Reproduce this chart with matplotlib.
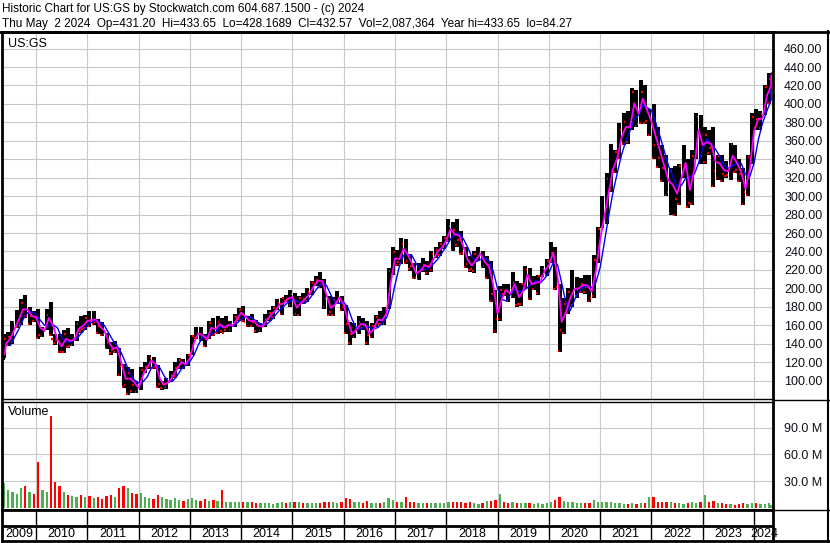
import numpy as np
import pandas as pd
import matplotlib
matplotlib.use("Agg")
import matplotlib.pyplot as plt

plt.rcParams['font.family'] = ['Liberation Sans', 'DejaVu Sans']

# monthly bars for US:GS, Apr 2009 .. May 2024
first_year, first_month = 2009, 4

highs = [136, 150, 153, 165, 177, 188, 193, 180, 175,
         178, 158, 178, 185, 150, 150, 155, 157, 151, 165, 170, 171,
         175, 175, 167, 163, 152, 142, 143, 135, 118, 115, 112, 100,
         115, 120, 128, 126, 117, 100, 103, 110, 120, 125, 123, 129,
         149, 158, 158, 150, 165, 168, 170, 168, 170, 165, 172, 179,
         181, 170, 172, 166, 162, 172, 176, 181, 188, 190, 193, 198,
         195, 192, 195, 200, 208, 213, 218, 210, 192, 191, 197, 192,
         182, 163, 162, 170, 168, 165, 162, 171, 175, 180, 222, 245,
         242, 255, 253, 237, 227, 227, 233, 230, 240, 245, 250, 257,
         275, 272, 275, 262, 245, 235, 240, 245, 240, 235, 230, 198,
         203, 205, 205, 218, 208, 206, 224, 222, 213, 215, 224, 232,
         250, 245, 205, 190, 200, 220, 212, 211, 215, 215, 236, 267,
         300, 325, 356, 350, 379, 390, 392, 417, 415, 426, 420, 395,
         400, 375, 355, 345, 330, 333, 335, 355, 340, 350, 390, 388,
         375, 372, 375, 345, 345, 338, 358, 355, 340, 330, 345, 390,
         395, 392, 420, 433, 434]

lows = [122, 125, 137, 140, 157, 160, 168, 160, 163,
        145, 147, 155, 148, 139, 130, 130, 135, 137, 143, 152, 155,
        158, 160, 150, 148, 134, 128, 130, 105, 92, 84, 87, 86,
        90, 108, 113, 112, 92, 90, 91, 98, 103, 113, 112, 116,
        128, 145, 143, 136, 145, 148, 150, 152, 153, 153, 158, 165,
        163, 158, 158, 152, 153, 158, 165, 167, 176, 171, 185, 180,
        170, 170, 183, 185, 193, 203, 200, 178, 170, 170, 183, 175,
        150, 139, 146, 150, 155, 139, 146, 158, 160, 160, 178, 214,
        224, 226, 226, 219, 210, 209, 218, 215, 218, 233, 235, 243,
        250, 240, 245, 236, 222, 218, 217, 230, 222, 210, 185, 152,
        165, 192, 185, 190, 180, 181, 200, 187, 198, 193, 212, 213,
        228, 198, 131, 150, 172, 180, 190, 195, 194, 185, 190, 228,
        265, 270, 305, 325, 340, 355, 357, 372, 375, 378, 378, 365,
        340, 330, 315, 300, 280, 278, 290, 320, 287, 290, 340, 335,
        335, 345, 310, 318, 315, 320, 318, 325, 315, 290, 300, 335,
        372, 372, 388, 400, 425]

closes = [128, 145, 147, 163, 165, 184, 170, 170, 169,
          149, 156, 171, 145, 144, 131, 151, 137, 145, 161, 156, 168,
          164, 164, 159, 151, 141, 133, 135, 116, 95, 108, 95, 90,
          111, 115, 124, 115, 96, 96, 101, 106, 114, 122, 118, 128,
          148, 150, 147, 146, 162, 151, 164, 152, 158, 161, 169, 177,
          164, 166, 164, 160, 160, 167, 173, 179, 184, 190, 188, 194,
          172, 190, 188, 196, 206, 209, 205, 189, 174, 187, 190, 180,
          161, 150, 157, 164, 160, 149, 159, 169, 161, 178, 219, 239,
          229, 248, 230, 224, 211, 222, 225, 224, 237, 242, 248, 255,
          268, 263, 252, 238, 226, 221, 237, 238, 224, 225, 194, 167,
          198, 197, 192, 206, 183, 205, 220, 204, 207, 213, 221, 230,
          238, 201, 155, 183, 196, 198, 198, 205, 201, 189, 231, 264,
          271, 319, 327, 348, 372, 380, 375, 413, 378, 413, 381, 383,
          355, 341, 330, 305, 327, 297, 333, 333, 293, 344, 386, 343,
          366, 352, 327, 343, 324, 323, 356, 328, 324, 304, 342, 386,
          384, 389, 418, 427, 433]

# volume, millions of shares (peak day of each month)
volumes = [22, 28, 20, 18, 16, 22, 25, 18, 16,
           52, 20, 18, 103, 29, 25, 18, 14, 13, 12, 14, 12,
           13, 11, 12, 10, 13, 14, 12, 22, 24, 22, 17, 15,
           17, 12, 11, 10, 14, 12, 10, 9, 11, 9, 8, 10,
           11, 9, 8, 10, 8, 9, 8, 20, 7, 6, 6, 7,
           7, 6, 6, 5, 5, 5, 5, 4, 5, 6, 5, 6,
           7, 6, 5, 5, 5, 5, 5, 7, 7, 6, 5, 6,
           11, 10, 7, 6, 5, 8, 5, 5, 5, 6, 11, 9,
           7, 6, 12, 7, 6, 5, 5, 5, 5, 5, 5, 5,
           7, 7, 7, 6, 5, 6, 5, 4, 5, 8, 8, 9,
           15, 6, 5, 6, 5, 5, 5, 5, 4, 5, 4, 5,
           6, 9, 12, 8, 6, 7, 5, 5, 5, 5, 9, 6,
           7, 6, 6, 5, 5, 4, 4, 5, 4, 5, 5, 12,
           12, 7, 6, 6, 6, 5, 5, 4, 5, 6, 5, 6,
           14, 6, 8, 5, 5, 4, 4, 3, 4, 5, 4, 5,
           5, 4, 4, 5, 3]

years = list(range(2009, 2025))
price_ticks = list(range(100, 461, 20))
vol_ticks = [30, 60, 90]

header1 = "Historic Chart for US:GS by Stockwatch.com 604.687.1500 - (c) 2024"
header2 = ("Thu May  2 2024  Op=431.20  Hi=433.65  Lo=428.1689  Cl=432.57  "
           "Vol=2,087,364  Year hi=433.65  lo=84.27")

W, H = 830, 543


def fx(x):
    return x / W


def fy(y):
    return 1 - y / H


# x positions (fractional years) of the monthly bars
n = len(closes)
idx = np.arange(n) + (first_month - 1)
pos = first_year + (idx + 0.5) / 12.0
x_left, x_right = 2009.337, 2024.37
pos = np.clip(pos, x_left + 0.01, 2024.335)

hi = np.array(highs, float)
lo = np.array(lows, float)
cl = np.array(closes, float)
typ = pd.Series((hi + lo + cl) / 3.0)
ma_short = typ
ma_long = typ.rolling(3).mean()
ma_x = np.clip(pos + 1 / 24.0, x_left, 2024.335)

fig = plt.figure(figsize=(W / 100, H / 100), dpi=100)

# price panel
ax = fig.add_axes([fx(2), fy(399), fx(773) - fx(2), fy(32) - fy(399)])
ax.set_xlim(x_left, x_right)
ax.set_ylim(80, 478)
ax.set_xticks(years[1:])
ax.set_yticks(price_ticks)
ax.grid(True, color='#c8c8c8', lw=0.8)
ax.set_axisbelow(True)
ax.tick_params(axis='x', length=0, labelbottom=False)
ax.yaxis.tick_right()
ax.tick_params(axis='y', length=0, pad=8, labelsize=9, labelcolor='#101018')
ax.set_yticklabels(["%.2f" % v for v in price_ticks])
for s in ['left', 'right', 'top']:
    ax.spines[s].set_linewidth(2)
ax.spines['bottom'].set_linewidth(1)

ax.vlines(pos, lo, hi, color='black', lw=2.9)
ax.hlines(cl, pos + 0.005, pos + 0.035, color='red', lw=1.6)
ax.hlines(lo + 1.5, pos - 0.035, pos - 0.005, color='red', lw=1.4)
ax.plot(ma_x, ma_long, color='#0000ff', lw=1.0)
ax.plot(ma_x, ma_short, color='#ff00ff', lw=1.3)
ax.text(0.008, 0.985, "US:GS", transform=ax.transAxes, fontsize=9,
        va='top', ha='left')

# volume panel
av = fig.add_axes([fx(2), fy(510), fx(773) - fx(2), fy(402) - fy(510)])
av.set_xlim(x_left, x_right)
av.set_ylim(-2.5, 119)
av.set_xticks(years[1:])
av.set_yticks(vol_ticks)
av.grid(True, color='#c8c8c8', lw=0.8)
av.set_axisbelow(True)
av.tick_params(axis='x', length=0, labelbottom=False)
av.yaxis.tick_right()
av.tick_params(axis='y', length=0, pad=8, labelsize=9, labelcolor='#101018')
av.set_yticklabels(["%.1f M" % v for v in vol_ticks])
for s in ['left', 'right', 'bottom']:
    av.spines[s].set_linewidth(2)
av.spines['top'].set_linewidth(1)
up = np.r_[True, cl[1:] >= cl[:-1]]
vcol = np.where(up, '#4caf50', '#ff0000')
av.bar(pos, volumes, width=0.045, color=vcol, bottom=0)
av.text(0.008, 0.96, "Volume", transform=av.transAxes, fontsize=9,
        va='top', ha='left')

# date strip
ad = fig.add_axes([fx(2), fy(541), fx(773) - fx(2), fy(510) - fy(541)])
ad.set_xlim(x_left, x_right)
ad.set_ylim(0, 2)
ad.set_xticks([])
ad.set_yticks([])
for s in ad.spines.values():
    s.set_linewidth(2)
ad.axhline(1, color='black', lw=2)
for yr in years[1:]:
    ad.axvline(yr, color='black', lw=1)
for yr in years:
    xc = max(yr + 0.5, x_left + 0.33)
    if yr == 2024:
        xc = 2024.2
    ad.text(xc, 0.45, str(yr), ha='center', va='center', fontsize=9)

# right border and header
fig.add_artist(plt.Line2D([fx(828), fx(828)], [0, fy(31)], color='black', lw=1.5))
fig.add_artist(plt.Line2D([0, fx(830)], [fy(31.5), fy(31.5)], color='black', lw=2))
fig.add_artist(plt.Line2D([fx(773), fx(830)], [fy(541), fy(541)], color='black', lw=2))
fig.add_artist(plt.Line2D([fx(773), fx(830)], [fy(510), fy(510)], color='black', lw=1))
fig.add_artist(plt.Line2D([fx(773), fx(830)], [fy(400), fy(400)], color='black', lw=1))
fig.text(fx(2), fy(12), header1, fontsize=8.5, va='baseline', ha='left')
fig.text(fx(2), fy(27), header2, fontsize=8.5, va='baseline', ha='left')

fig.savefig("out.png", dpi=100)
